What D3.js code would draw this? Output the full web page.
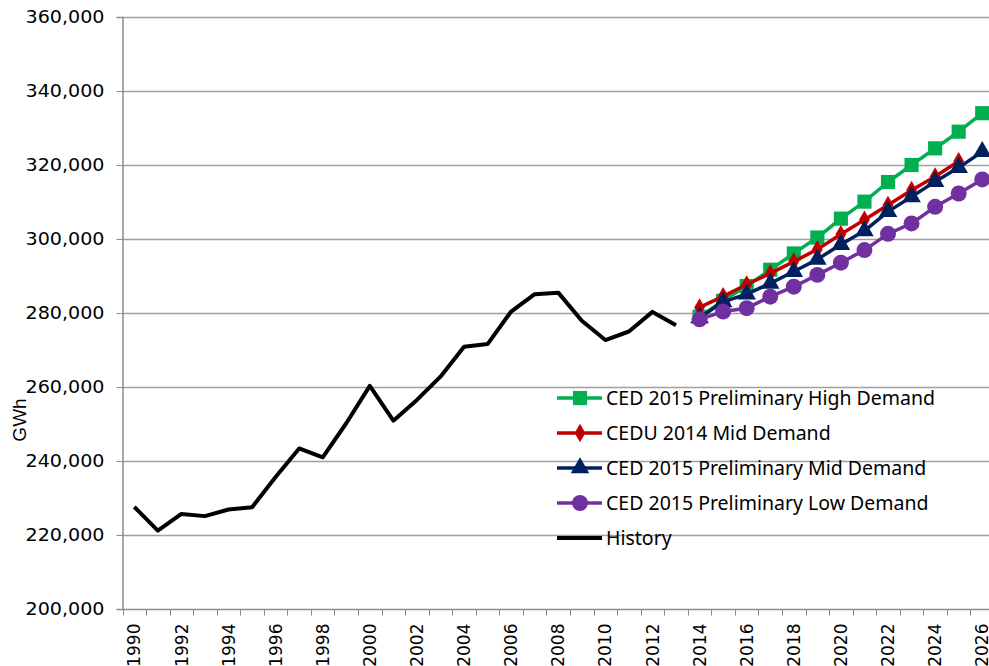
<!DOCTYPE html>
<html>
<head>
<meta charset="utf-8">
<script src="https://cdn.jsdelivr.net/npm/d3@7"></script>
<style>
  body { margin: 0; background: #fff; }
  svg { display: block; }
</style>
</head>
<body>
<div id="chart"></div>
<script>
// categories (years on the x axis)
var years = [1990, 1991, 1992, 1993, 1994, 1995, 1996, 1997, 1998, 1999,
             2000, 2001, 2002, 2003, 2004, 2005, 2006, 2007, 2008, 2009,
             2010, 2011, 2012, 2013, 2014, 2015, 2016, 2017, 2018, 2019,
             2020, 2021, 2022, 2023, 2024, 2025, 2026]
var yTicks = [200000, 220000, 240000, 260000, 280000, 300000, 320000, 340000, 360000]

// history, 1990 - 2013
var historyYears = [1990, 1991, 1992, 1993, 1994, 1995, 1996, 1997, 1998, 1999,
                    2000, 2001, 2002, 2003, 2004, 2005, 2006, 2007, 2008, 2009,
                    2010, 2011, 2012, 2013]
var historyValues = [227600, 221200, 225700, 225100, 226900, 227500, 235700, 243400, 241000, 250200,
                     260300, 250900, 256500, 262800, 270900, 271600, 280400, 285100, 285500, 277900,
                     272700, 275000, 280300, 276700]

// forecasts
var fcYears = [2014, 2015, 2016, 2017, 2018, 2019, 2020, 2021, 2022, 2023, 2024, 2025, 2026]
var ced15High = [279000, 283300, 287300, 291700, 296100, 300400, 305500, 310100, 315400, 320000, 324500, 329000, 334000]
var cedu14Mid = [281500, 284500, 287700, 290700, 293900, 297200, 301300, 305200, 309200, 313200, 316900, 321000]
var ced15Mid  = [278700, 283000, 285100, 288000, 291200, 294500, 298500, 302200, 307400, 311400, 315500, 319300, 323600]
var ced15Low  = [278300, 280400, 281300, 284400, 287100, 290300, 293600, 297000, 301400, 304200, 308700, 312300, 316100]

var seriesNames = ['CED 2015 Preliminary High Demand', 'CEDU 2014 Mid Demand',
                   'CED 2015 Preliminary Mid Demand', 'CED 2015 Preliminary Low Demand', 'History']

var width = 989
    height = 666

var svg = d3.select('#chart').append('svg')
    .attr('width', width)
    .attr('height', height)

// scales
var x = d3.scaleBand().domain(years).range([122.5, 994]).padding(0)
var y = d3.scaleLinear().domain([200000, 360000]).range([609, 17])
var cx = function(yr) { return x(yr) + x.bandwidth() / 2 }

// gridlines
svg.append('g')
  .selectAll('line')
  .data(yTicks.slice(1))
  .enter()
  .append('line')
    .attr('x1', 122.5).attr('x2', width)
    .attr('y1', d => Math.round(y(d)) + 0.5).attr('y2', d => Math.round(y(d)) + 0.5)
    .attr('stroke', '#a0a0a0')
    .attr('stroke-width', 1.5)

// y axis
var yAxis = svg.append('g')
    .attr('transform', 'translate(122.5,0)')
    .call(d3.axisLeft(y).tickValues(yTicks).tickSize(6).tickPadding(12).tickFormat(d3.format(',')))
yAxis.select('.domain').attr('stroke', '#8c8c8c').attr('stroke-width', 1.5)
yAxis.selectAll('.tick line').attr('stroke', '#8c8c8c')
yAxis.selectAll('text')
    .attr('font-family', 'DejaVu Sans')
    .attr('font-size', 17)
    .attr('fill', '#000')
    .attr('textLength', 79)
    .attr('lengthAdjust', 'spacingAndGlyphs')

// x axis: tick marks at the category edges, labels every second year
var xg = svg.append('g').attr('transform', 'translate(0,609.5)')
xg.append('line')
    .attr('x1', 122.5).attr('x2', width)
    .attr('stroke', '#8c8c8c').attr('stroke-width', 1.5)
xg.selectAll('.tk')
  .data(years)
  .enter()
  .append('line')
    .attr('class', 'tk')
    .attr('x1', d => Math.round(x(d)) + 0.5).attr('x2', d => Math.round(x(d)) + 0.5)
    .attr('y1', 0).attr('y2', 6)
    .attr('stroke', '#8c8c8c')
xg.selectAll('.lbl')
  .data(years.filter(d => d % 2 === 0))
  .enter()
  .append('text')
    .attr('class', 'lbl')
    .attr('transform', d => 'translate(' + cx(d) + ',14) rotate(-90)')
    .attr('dy', '0.36em')
    .attr('text-anchor', 'end')
    .attr('font-family', 'DejaVu Sans')
    .attr('font-size', 17)
    .text(d => d)

// y axis title
svg.append('text')
    .attr('transform', 'translate(26,420) rotate(-90)')
    .attr('text-anchor', 'middle')
    .attr('font-family', 'Liberation Sans')
    .attr('font-size', 19)
    .text('GWh')

// series
var series = [
  { name: seriesNames[0], years: fcYears, values: ced15High, color: '#00b050', marker: 'square' },
  { name: seriesNames[1], years: fcYears, values: cedu14Mid, color: '#c00000', marker: 'diamond' },
  { name: seriesNames[2], years: fcYears, values: ced15Mid,  color: '#002060', marker: 'triangle' },
  { name: seriesNames[3], years: fcYears, values: ced15Low,  color: '#7030a0', marker: 'circle' },
  { name: seriesNames[4], years: historyYears, values: historyValues, color: '#000000', marker: null }
]

var symbols = {
  square: d3.symbol().type(d3.symbolSquare).size(200),
  diamond: d3.symbol().type(d3.symbolDiamond).size(100),
  triangle: d3.symbol().type(d3.symbolTriangle).size(150),
  circle: d3.symbol().type(d3.symbolCircle).size(200)
}

var line = d3.line()
    .x(d => cx(d[0]))
    .y(d => y(d[1]))

series.forEach(function(s) {
  var pts = s.values.map((v, i) => [s.years[i], v])
  var g = svg.append('g')
  g.append('path')
      .datum(pts)
      .attr('d', line)
      .attr('fill', 'none')
      .attr('stroke', s.color)
      .attr('stroke-width', s.marker ? 3.5 : 4)
      .attr('stroke-linejoin', 'round')
  if (s.marker) {
    g.selectAll('path.m')
      .data(pts)
      .enter()
      .append('path')
        .attr('class', 'm')
        .attr('transform', d => 'translate(' + cx(d[0]) + ',' + y(d[1]) + ')')
        .attr('d', symbols[s.marker])
        .attr('fill', s.color)
  }
})

// legend
var legend = svg.append('g')
    .selectAll('g')
    .data(series)
    .enter()
    .append('g')
      .attr('transform', (d, i) => 'translate(557,' + (398 + i * 35) + ')')
legend.append('line')
    .attr('x1', 0).attr('x2', 45)
    .attr('stroke', d => d.color)
    .attr('stroke-width', d => d.marker ? 3.5 : 4)
legend.filter(d => d.marker)
  .append('path')
    .attr('transform', 'translate(23,0)')
    .attr('d', d => symbols[d.marker]())
    .attr('fill', d => d.color)
legend.append('text')
    .attr('x', 49)
    .attr('dy', '0.35em')
    .attr('font-family', 'Noto Sans')
    .attr('font-size', 19.5)
    .text(d => d.name)
</script>
</body>
</html>
